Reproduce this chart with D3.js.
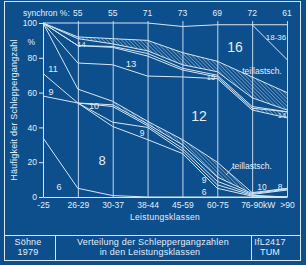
<!DOCTYPE html>
<html>
<head>
<meta charset="utf-8">
<script src="https://cdn.jsdelivr.net/npm/d3@7"></script>
<style>
html, body { margin: 0; padding: 0; background: #0d4f8d; }
svg { display: block; }
text { font-family: "Liberation Sans", Arial, sans-serif; fill: #e2edf8; }
</style>
</head>
<body>
<script>
// power classes (x) and gear-count share lines (% cumulative, top to bottom)
var classes = ["-25", "26-29", "30-37", "38-44", "45-59", "60-75", "76-90", ">90"];
var synchron = [null, 55, 55, 71, 73, 69, 72, 61];
var yTicks = [0, 20, 40, 60, 80, 100];

var lineTop      = [100, 100, 100, 100, 98, 99, 99, 99];
var line1836     = [null, null, null, null, null, null, 99, 79];
var teilOben     = [100, 92, 91, 90, 83, 78, 69, 60];
var teilObenUnt  = [100, 91, 88, 84, 76, 72, 57, 50];
var line15       = [100, 87, 86.5, 82.5, 74, 70, 52, 49];
var line14       = [100, 87, 86, 81, 73, 69, 51, 49];
var line13       = [100, 77, 76, 69.5, 69, 68, 50, 45.5];
var line12       = [100, 62, 55, 43.5, 33, 20, 2.5, 5];
var teilUntenUnt = [71, 54, 53, 42, 30, 11.5, 2, 4.5];
var line10       = [58, 54, 52, 41, 28, 9, 1.5, 4];
var line9        = [null, 54, 43, 40, 26.5, 7, 1, 0];
var line8        = [null, 54, 40.5, 33, 25, 5, 0.5, 0];
var line6        = [34, 5, 0.8, 0, 0, 0, 0, 0];

var areaLabels = [
	{ t: "16", x: 235, y: 47, s: 14 },
	{ t: "18-36", x: 276, y: 37, s: 8 },
	{ t: "teillastsch.", x: 262, y: 71, s: 8.5 },
	{ t: "15", x: 211, y: 77, s: 7.5 },
	{ t: "14", x: 81.5, y: 44, s: 7.5 },
	{ t: "14", x: 282, y: 115, s: 7.5 },
	{ t: "13", x: 131, y: 64, s: 9.5 },
	{ t: "11", x: 53, y: 69, s: 9 },
	{ t: "9", x: 51, y: 92, s: 9 },
	{ t: "10", x: 94, y: 106, s: 9 },
	{ t: "12", x: 199, y: 116, s: 14 },
	{ t: "8", x: 102, y: 160, s: 13 },
	{ t: "6", x: 59, y: 187, s: 9 },
	{ t: "9", x: 142, y: 133, s: 8.5 },
	{ t: "9", x: 204, y: 180, s: 8.5 },
	{ t: "6", x: 204, y: 192, s: 8.5 },
	{ t: "teillastsch.", x: 252, y: 166, s: 8.5 },
	{ t: "10", x: 262, y: 187, s: 8.5 },
	{ t: "8", x: 280, y: 187, s: 8.5 }
];

var W = 306, H = 265;
var ink = "#d7e6f5";

var svg = d3.select("body").append("svg").attr("width", W).attr("height", H);

var x = d3.scalePoint().domain(classes).range([43, 287]);
var y = d3.scaleLinear().domain([0, 100]).range([197, 23]);

// hatch pattern
svg.append("defs").append("pattern")
	.attr("id", "hatch")
	.attr("patternUnits", "userSpaceOnUse")
	.attr("width", 2.6).attr("height", 2.6)
	.attr("patternTransform", "rotate(-45)")
	.append("line")
	.attr("x1", 0).attr("y1", 0).attr("x2", 0).attr("y2", 2.6)
	.attr("stroke", ink).attr("stroke-width", 0.8);

// frame and title block
svg.append("rect").attr("x", 4.5).attr("y", 1.5).attr("width", 296).attr("height", 259)
	.attr("fill", "none").attr("stroke", ink).attr("stroke-width", 1);
svg.append("line").attr("x1", 4.5).attr("x2", 300.5).attr("y1", 235.5).attr("y2", 235.5)
	.attr("stroke", ink);
[55.5, 251.5].forEach(function(xx) {
	svg.append("line").attr("x1", xx).attr("x2", xx).attr("y1", 235.5).attr("y2", 260.5)
		.attr("stroke", ink);
});

// vertical class lines
svg.append("g").selectAll("line").data(classes.slice(1)).enter().append("line")
	.attr("x1", function(d) { return x(d) + 0.5; })
	.attr("x2", function(d) { return x(d) + 0.5; })
	.attr("y1", 21).attr("y2", y(0))
	.attr("stroke", ink).attr("stroke-width", 0.9);

// hatched bands
var idx = classes.map(function(c, i) { return i; });
var band = function(top, bot) {
	return d3.area()
		.defined(function(i) { return top[i] != null && bot[i] != null; })
		.x(function(i) { return x(classes[i]); })
		.y0(function(i) { return y(bot[i]); })
		.y1(function(i) { return y(top[i]); });
};
svg.append("path").attr("d", band(teilOben, teilObenUnt)(idx)).attr("fill", "url(#hatch)");
svg.append("path").attr("d", band(line12, teilUntenUnt)(idx.slice(2))).attr("fill", "url(#hatch)");
svg.append("path").attr("d", band(line14, line13)(idx.slice(6))).attr("fill", "url(#hatch)");

// share lines
var allLines = [lineTop, line1836, teilOben, teilObenUnt, line15, line14, line13,
	line12, teilUntenUnt, line10, line9, line8, line6];
var lineGen = d3.line()
	.defined(function(d) { return d != null; })
	.x(function(d, i) { return x(classes[i]); })
	.y(function(d) { return y(d); });
svg.append("g").selectAll("path").data(allLines).enter().append("path")
	.attr("d", lineGen)
	.attr("fill", "none").attr("stroke", ink).attr("stroke-width", 1)
	.attr("stroke-linejoin", "round");

// axes
var yAxis = svg.append("g").attr("transform", "translate(43,0)")
	.call(d3.axisLeft(y).tickValues(yTicks).tickSize(4).tickSizeOuter(0).tickPadding(2));
var xAxis = svg.append("g").attr("transform", "translate(0," + y(0) + ")")
	.call(d3.axisBottom(x).tickSize(0).tickPadding(5)
		.tickFormat(function(d) { return d == "76-90" ? "76-90kW" : d; }));
[yAxis, xAxis].forEach(function(g) {
	g.selectAll("path, line").attr("stroke", ink);
	g.selectAll("text").attr("fill", "#e2edf8").style("font-size", "8.5px")
		.style("font-family", "Liberation Sans, Arial, sans-serif");
});
xAxis.selectAll("text").filter(function(d) { return d == "76-90"; })
	.attr("text-anchor", "start").attr("dx", -11.5);

svg.append("text").attr("x", 35).attr("y", 45).attr("text-anchor", "end")
	.style("font-size", "8.5px").text("%");

svg.append("text").attr("transform", "translate(17,110) rotate(-90)")
	.attr("text-anchor", "middle").style("font-size", "9px")
	.style("letter-spacing", "0.2px")
	.text("Häufigkeit der Schleppergangzahl");

svg.append("text").attr("x", 165).attr("y", 220).attr("text-anchor", "middle")
	.style("font-size", "8.5px").style("letter-spacing", "0.3px").text("Leistungsklassen");

// synchron row
svg.append("text").attr("x", 23).attr("y", 15.5).style("font-size", "8.5px").text("synchron %:");
svg.append("g").selectAll("text").data(classes).enter()
	.filter(function(d, i) { return synchron[i] != null; })
	.append("text")
	.attr("x", function(d) { return x(d); })
	.attr("y", 15.5).attr("text-anchor", "middle").style("font-size", "8.5px")
	.text(function(d) { return synchron[classes.indexOf(d)]; });

// area labels
svg.append("g").selectAll("text").data(areaLabels).enter().append("text")
	.attr("x", function(d) { return d.x; })
	.attr("y", function(d) { return d.y; })
	.attr("dy", "0.35em").attr("text-anchor", "middle")
	.style("font-size", function(d) { return d.s + "px"; })
	.text(function(d) { return d.t; });
svg.append("line").attr("x1", 233).attr("y1", 167).attr("x2", 226).attr("y2", 175)
	.attr("stroke", ink).attr("stroke-width", 0.8);

// title block
var block = [
	{ t: "Söhne", x: 28, y: 245 }, { t: "1979", x: 28, y: 255 },
	{ t: "Verteilung der Schleppergangzahlen", x: 153, y: 245 },
	{ t: "in den Leistungsklassen", x: 150, y: 255 },
	{ t: "IfL2417", x: 270, y: 245 }, { t: "TUM", x: 270, y: 255 }
];
svg.append("g").selectAll("text").data(block).enter().append("text")
	.attr("x", function(d) { return d.x; })
	.attr("y", function(d) { return d.y; })
	.attr("text-anchor", "middle").style("font-size", "9px").style("letter-spacing", "0.2px")
	.text(function(d) { return d.t; });
</script>
</body>
</html>
